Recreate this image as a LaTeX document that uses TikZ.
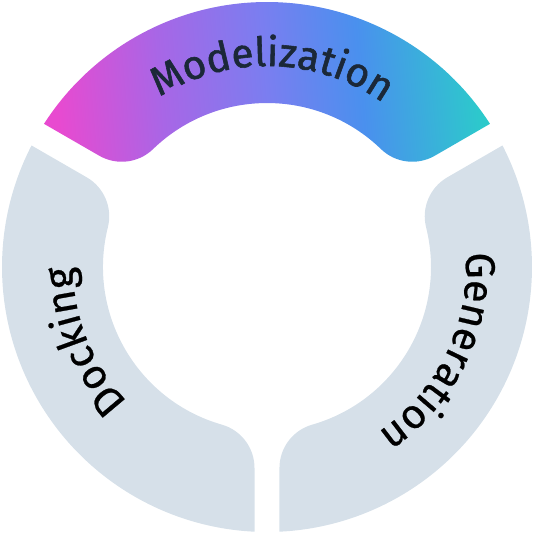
\documentclass[tikz,border=0pt]{standalone}
\usepackage{fontspec}
\setmainfont{Fira Sans}
\newfontfamily\sidefont{Fira Sans}[FakeBold=0.6]
\newfontfamily\topfont{Fira Sans}[FakeBold=1.4]
\usetikzlibrary{decorations.text}
\definecolor{ringgray}{RGB}{214, 224, 233}
\definecolor{modelink}{RGB}{27, 40, 56}
\definecolor{magentaM}{RGB}{232, 74, 208}
\definecolor{purpleM}{RGB}{168, 102, 230}
\definecolor{violetM}{RGB}{122, 126, 240}
\definecolor{blueM}{RGB}{74, 144, 238}
\definecolor{tealM}{RGB}{44, 202, 203}
\pgfdeclarehorizontalshading{modelgrad}{100bp}{color(0bp)=(magentaM); color(25bp)=(magentaM);
  color(37.5bp)=(purpleM); color(50bp)=(violetM); color(61bp)=(blueM); color(75bp)=(tealM); color(100bp)=(tealM)}
% one third of the ring, from the gap at angle #1 to the gap at #1+120
\newcommand{\ringpart}[1]{({#1+2.70}:2.65) arc[start angle={#1+2.70}, end angle={#1+117.30}, radius=2.65]
  -- ({#1+116.44}:2.013) arc[start angle={#1-150}, end angle={#1-75.97}, radius=0.45]
  arc[start angle={#1+104.03}, end angle={#1+15.97}, radius=1.64]
  arc[start angle={#1-164.03}, end angle={#1-90}, radius=0.45] -- cycle}

\begin{document}
\begin{tikzpicture}
            \useasboundingbox (-2.67,-2.67) rectangle (2.67,2.67);
            \shade[shading=modelgrad, shading angle=5]   \ringpart{30};
            \fill[ringgray]             \ringpart{150};
            \fill[ringgray]             \ringpart{270};
            \path[decorate, decoration={text along path, text align=center, text color=modelink,
                 text={|\topfont\fontsize{11.5}{14}\selectfont|Modelization}}]
                 (138.5:2.01) arc[start angle=138.5, end angle=38.5, radius=2.01];
            \path[decorate, decoration={text along path, text align=center, text color=black,
                 text={|\sidefont\fontsize{11.8}{14}\selectfont|Docking}}]
                 (247:1.94) arc[start angle=247, end angle=157, radius=1.94];
            \path[decorate, decoration={text along path, text align=center, text color=black,
                 text={|\sidefont\fontsize{11.8}{14}\selectfont|Generation}}]
                 (24:1.99) arc[start angle=24, end angle=-76, radius=1.99];
        \end{tikzpicture}
\end{document}
